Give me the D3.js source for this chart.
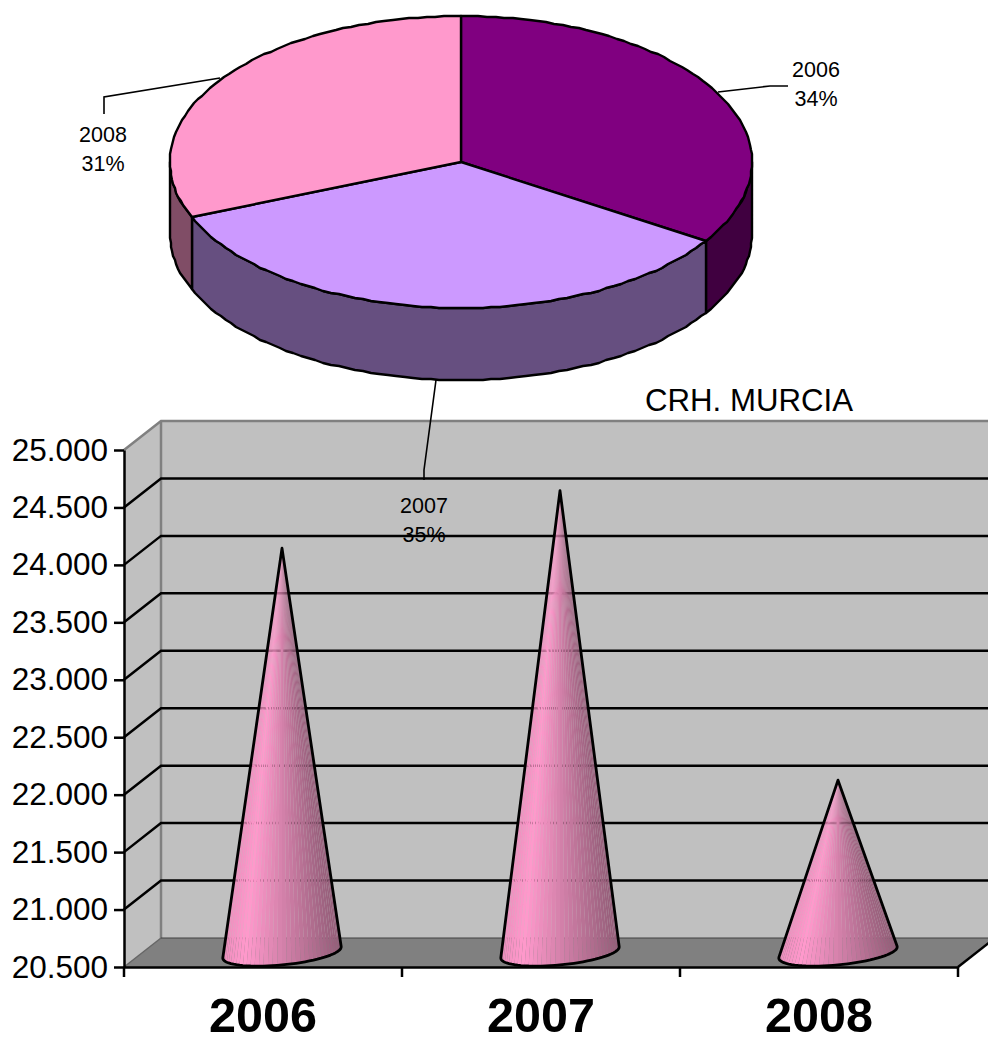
<!DOCTYPE html>
<html>
<head>
<meta charset="utf-8">
<script src="https://cdn.jsdelivr.net/npm/d3@7"></script>
<style>
  body { margin: 0; background: #fff; }
  svg { display: block; font-family: "Liberation Sans", Arial, sans-serif; }
</style>
</head>
<body>
<svg id="chart" width="988" height="1037"></svg>
<script>
// Data
const years = ["2006", "2007", "2008"];
const crhValues = [24020, 24520, 22000];
const yTicks = [20500, 21000, 21500, 22000, 22500, 23000, 23500, 24000, 24500, 25000];
const chartTitle = "CRH. MURCIA";

// Colours
const topColors = ["#800080", "#CC99FF", "#FF99CC"];
const sideColors = ["#400040", "#664F80", "#804D66"];

const svg = d3.select("#chart");

// ---- Cone chart ----
const depthX = 37;
const depthY = -29;
const plotLeft = 124;
const plotRight = 958;

const yScale = d3.scaleLinear().domain([20500, 25000]).range([967, 450]);
const xScale = d3.scaleBand().domain(years).range([plotLeft, plotRight]);
const numFormat = d3.formatLocale({ decimal: ",", thousands: ".", grouping: [3], currency: ["", ""] }).format(",d");

const yTop = yScale.range()[1];
const yBottom = yScale.range()[0];
const poly = d3.line();

const chart = svg.append("g");

// walls and floor
chart.append("path")
  .attr("d", poly([[plotLeft + depthX, yTop + depthY], [plotRight + depthX, yTop + depthY], [plotRight + depthX, yBottom + depthY], [plotLeft + depthX, yBottom + depthY]]) + "Z")
  .attr("fill", "#C0C0C0");
chart.append("path")
  .attr("d", poly([[plotLeft, yTop], [plotLeft + depthX, yTop + depthY], [plotLeft + depthX, yBottom + depthY], [plotLeft, yBottom]]) + "Z")
  .attr("fill", "#C0C0C0");
chart.append("path")
  .attr("d", poly([[plotLeft, yBottom], [plotLeft + depthX, yBottom + depthY], [plotRight + depthX, yBottom + depthY], [plotRight, yBottom]]) + "Z")
  .attr("fill", "#808080");

// wall outline
chart.append("path")
  .attr("d", poly([[plotLeft, yTop], [plotLeft + depthX, yTop + depthY], [plotRight + depthX, yTop + depthY]]))
  .attr("fill", "none").attr("stroke", "#808080").attr("stroke-width", 2.5);
chart.append("path")
  .attr("d", poly([[plotLeft + depthX, yTop + depthY], [plotLeft + depthX, yBottom + depthY]]))
  .attr("fill", "none").attr("stroke", "#808080").attr("stroke-width", 2.5);
chart.append("path")
  .attr("d", poly([[plotLeft, yBottom], [plotLeft + depthX, yBottom + depthY]]))
  .attr("fill", "none").attr("stroke", "#666").attr("stroke-width", 1.5);
chart.append("path")
  .attr("d", poly([[plotLeft + depthX, yBottom + depthY], [plotRight + depthX, yBottom + depthY]]))
  .attr("fill", "none").attr("stroke", "#404040").attr("stroke-width", 1);

// gridlines, leaving out the floor and the top edge
chart.selectAll(".grid")
  .data(yTicks.filter((d) => d !== 20500 && d !== 25000))
  .enter()
  .append("path")
  .attr("class", "grid")
  .attr("d", (d) => poly([[plotLeft, yScale(d)], [plotLeft + depthX, yScale(d) + depthY], [plotRight + depthX, yScale(d) + depthY]]))
  .attr("fill", "none")
  .attr("stroke", "#000")
  .attr("stroke-width", 2.5);

// floor right edge
chart.append("path")
  .attr("d", poly([[plotRight, yBottom], [plotRight + depthX, yBottom + depthY]]))
  .attr("fill", "none").attr("stroke", "#000").attr("stroke-width", 2.5);

// cones
const coneShade = d3.scaleLinear()
  .domain([0, 0.18, 1])
  .range(["#EE8FBE", "#FF99CC", "#935D78"]);

function drawCone(year, value) {
  const cx = xScale(year) + xScale.bandwidth() / 2 + depthX / 2 + 0.5;
  const cy = yBottom + depthY / 2;
  const tip = [cx, yScale(value) + depthY / 2];
  // base circle seen obliquely: two conjugate half axes
  const U = [57, -2];
  const V = [-16, 13.5];
  const point = (t) => [
    cx + U[0] * Math.cos(t) + V[0] * Math.sin(t),
    cy + U[1] * Math.cos(t) + V[1] * Math.sin(t),
  ];
  // tangent points from the tip
  const qx = tip[0] - cx;
  const qy = tip[1] - cy;
  const det = U[0] * V[1] - U[1] * V[0];
  const a = (qx * V[1] - qy * V[0]) / det;
  const b = (U[0] * qy - U[1] * qx) / det;
  const base = Math.atan2(b, a);
  const spread = Math.acos(1 / Math.hypot(a, b));
  const tRight = base + spread;
  const tLeft = base - spread + 2 * Math.PI;
  const start = tRight > tLeft ? tRight - 2 * Math.PI : tRight;
  // visible front arc goes from the right tangent round to the left tangent
  const n = 40;
  const arc = d3.range(n + 1).map((i) => point(start + ((tLeft - start) * i) / n));
  const xs = arc.map((p) => p[0]);
  const xMin = d3.min(xs);
  const xMax = d3.max(xs);

  const g = chart.append("g");
  d3.range(n).forEach((i) => {
    const mid = (arc[i][0] + arc[i + 1][0]) / 2;
    g.append("path")
      .attr("d", poly([tip, arc[i], arc[i + 1]]) + "Z")
      .attr("fill", coneShade((mid - xMin) / (xMax - xMin)));
  });
  g.append("path")
    .attr("d", poly([tip].concat(arc)) + "Z")
    .attr("fill", "none")
    .attr("stroke", "#000")
    .attr("stroke-width", 2.8)
    .attr("stroke-linejoin", "round");
}
years.forEach((y, i) => drawCone(y, crhValues[i]));

// axes
const yAxis = chart.append("g")
  .attr("transform", `translate(${plotLeft},0)`)
  .call(d3.axisLeft(yScale).tickValues(yTicks).tickFormat(numFormat).tickSize(10).tickSizeOuter(0).tickPadding(6));
yAxis.selectAll("path,line").attr("stroke", "#000").attr("stroke-width", 2.5);
yAxis.selectAll("text").attr("font-size", 31.5).attr("font-family", null).attr("fill", "#000");

const xAxis = chart.append("g")
  .attr("transform", `translate(0,${yBottom})`)
  .call(d3.axisBottom(xScale).tickSize(0).tickSizeOuter(0).tickPadding(31));
xAxis.select("path").attr("stroke", "#000").attr("stroke-width", 2.5);
xAxis.selectAll("text").attr("font-size", 48.5).attr("font-weight", "bold").attr("font-family", null).attr("fill", "#000");
// ticks sit on the band edges
xAxis.selectAll(".edge")
  .data(years.map((d) => xScale(d)).concat(plotRight))
  .enter()
  .append("line")
  .attr("class", "edge")
  .attr("x1", (d) => d).attr("x2", (d) => d)
  .attr("y1", 0).attr("y2", 10)
  .attr("stroke", "#000").attr("stroke-width", 2.5);

svg.append("text")
  .attr("x", 749).attr("y", 411)
  .attr("text-anchor", "middle")
  .attr("font-size", 31.2)
  .text(chartTitle);

// ---- 3D pie ----
const pieCx = 461;
const pieCy = 162;
const pieRx = 291;
const pieRy = 146;
const pieDepth = 72;
const pieX = d3.scaleLinear().domain([-1, 1]).range([pieCx - pieRx, pieCx + pieRx]);
const pieY = d3.scaleLinear().domain([-1, 1]).range([pieCy - pieRy, pieCy + pieRy]);
const total = d3.sum(crhValues);
const slices = d3.pie().sort(null)(crhValues);

// rim point, angle clockwise from 12 o'clock; whole pixels give the faceted outline of the source
const rim = (angle, drop) => [Math.round(pieX(Math.sin(angle))), Math.round(pieY(-Math.cos(angle))) + drop];
function rimPoints(a0, a1, drop) {
  const n = Math.max(2, Math.ceil(Math.abs(a1 - a0) / 0.03));
  return d3.range(n + 1).map((i) => rim(a0 + ((a1 - a0) * i) / n, drop));
}

const pie = svg.append("g")
  .attr("stroke", "#000")
  .attr("stroke-width", 2.4)
  .attr("stroke-linejoin", "round");

// side walls only where the rim faces the viewer
slices.forEach((s, i) => {
  const a0 = Math.max(s.startAngle, Math.PI / 2);
  const a1 = Math.min(s.endAngle, (3 * Math.PI) / 2);
  if (a1 <= a0) return;
  pie.append("path")
    .attr("d", poly(rimPoints(a0, a1, 0).concat(rimPoints(a1, a0, pieDepth))) + "Z")
    .attr("fill", sideColors[i]);
});

// top faces
slices.forEach((s, i) => {
  pie.append("path")
    .attr("d", poly([[pieCx, pieCy]].concat(rimPoints(s.startAngle, s.endAngle, 0))) + "Z")
    .attr("fill", topColors[i]);
});

// labels and their leader lines
const leaders = [
  [[718, 92], [770, 86], [788, 86]],
  [[436, 380], [424, 470], [424, 480]],
  [[220, 78], [104, 97], [104, 114]],
];
const labelPos = [[816, 76.5], [424, 512.5], [103, 141.5]];

svg.selectAll(".leader")
  .data(leaders)
  .enter()
  .append("path")
  .attr("class", "leader")
  .attr("d", (d) => poly(d))
  .attr("fill", "none")
  .attr("stroke", "#000")
  .attr("stroke-width", 1.6);

years.forEach((y, i) => {
  const t = svg.append("text")
    .attr("text-anchor", "middle")
    .attr("font-size", 21.5)
    .attr("fill", "#000");
  t.append("tspan").attr("x", labelPos[i][0]).attr("y", labelPos[i][1]).text(y);
  t.append("tspan").attr("x", labelPos[i][0]).attr("y", labelPos[i][1] + 29)
    .text(Math.round((crhValues[i] / total) * 100) + "%");
});
</script>
</body>
</html>
